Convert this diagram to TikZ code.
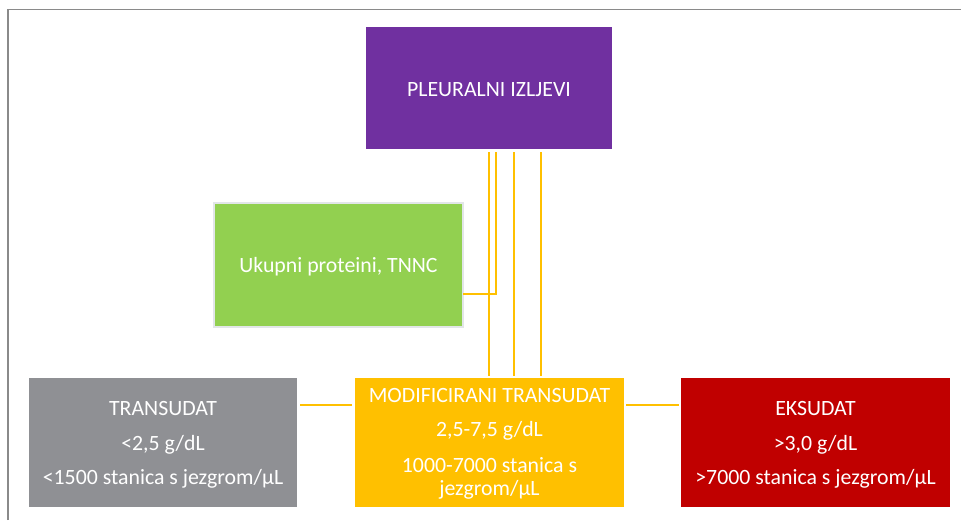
\documentclass[tikz,border=0pt]{standalone}
\usepackage{fontspec}
\setmainfont{Carlito}
\definecolor{purp}{HTML}{7030A0}
\definecolor{grn}{HTML}{92D050}
\definecolor{grnb}{HTML}{E2E6E8}
\definecolor{gry}{HTML}{8F9094}
\definecolor{yel}{HTML}{FFC000}
\definecolor{rd}{HTML}{C00000}
\definecolor{frm}{HTML}{8A8A8A}
\begin{document}
\begin{tikzpicture}[x=1pt,y=-1pt,
  boxa/.style={draw=none,inner sep=0pt,outer sep=0pt},
  txt/.style={text=white,font=\fontsize{21.8}{26}\selectfont,anchor=base,inner sep=0pt},
  conn/.style={draw=yel,line width=2pt}]
\useasboundingbox (0,0) rectangle (961,520);
% frame
\draw[frm,line width=1.5pt] (8,520) -- (8,9.5) -- (961,9.5);
% boxes
\fill[purp] (366,27) rectangle (612,149);
\node[boxa,minimum width=246pt,minimum height=122pt] (pl) at (489,88) {};
\draw[grnb,fill=grn,line width=2pt] (214,203) rectangle (463,327);
\node[boxa,minimum width=249pt,minimum height=124pt] (up) at (338.5,265) {};
\fill[gry] (29,378) rectangle (297,507);
\node[boxa,minimum width=268pt,minimum height=129pt] (tr) at (163,442.5) {};
\fill[yel] (355,378) rectangle (624,507);
\node[boxa,minimum width=269pt,minimum height=129pt] (mt) at (489.5,442.5) {};
\fill[rd] (681,378) rectangle (950,507);
\node[boxa,minimum width=269pt,minimum height=129pt] (ek) at (815.5,442.5) {};
% texts
\node[txt] (plt) at (489,96) {PLEURALNI IZLJEVI};
\node[txt] (upt) at (338.5,272) {Ukupni proteini, TNNC};
\node[txt] (tr1) at (163,415) {TRANSUDAT};
\node[txt] (tr2) at (163,450) {<2,5 g/dL};
\node[txt] (tr3) at (163,484) {<1500 stanica s jezgrom/µL};
\node[txt] (mt1) at (489.5,402) {MODIFICIRANI TRANSUDAT};
\node[txt] (mt2) at (489.5,436) {2,5-7,5 g/dL};
\node[txt] (mt3) at (489.5,472) {1000-7000 stanica s};
\node[txt] (mt4) at (489.5,495) {jezgrom/µL};
\node[txt] (ek1) at (815.5,415) {EKSUDAT};
\node[txt] (ek2) at (815.5,450) {>3,0 g/dL};
\node[txt] (ek3) at (815.5,484) {>7000 stanica s jezgrom/µL};
% connectors
\coordinate (c1) at (489,152);
\coordinate (c2) at (496,152);
\coordinate (c3) at (514,152);
\coordinate (c4) at (541,152);
\draw[conn] (c2) |- (up.east |- 0,294);
\draw[conn] (c1) -- (489,376);
\draw[conn] (c3) -- (514,376);
\draw[conn] (c4) -- (541,376);
\draw[conn] ([xshift=3pt]tr.east |- 0,405) -- ([xshift=-3pt]mt.west |- 0,405);
\draw[conn] ([xshift=2pt]mt.east |- 0,405) -- ([xshift=-2pt]ek.west |- 0,405);
\end{tikzpicture}
\end{document}
